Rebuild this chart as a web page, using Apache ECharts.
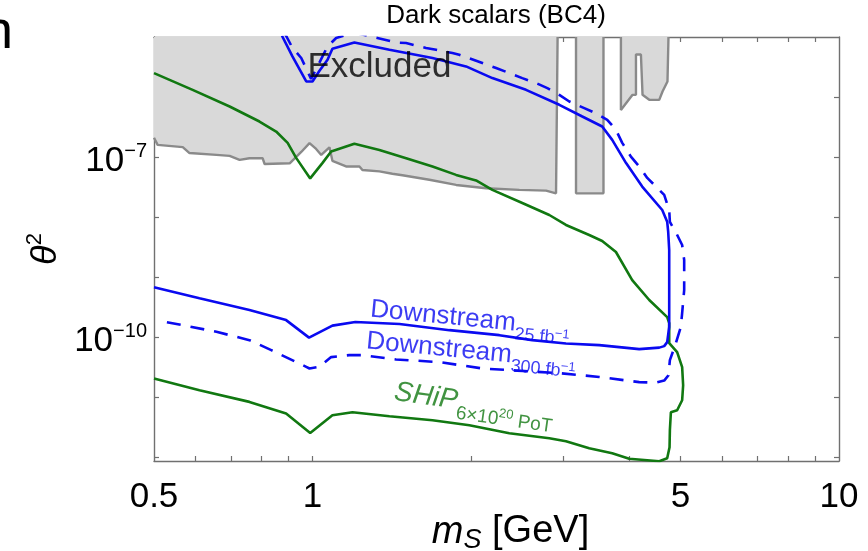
<!DOCTYPE html>
<html><head><meta charset="utf-8">
<script src="https://cdn.jsdelivr.net/npm/echarts@6/dist/echarts.min.js"></script>
<style>html,body{margin:0;padding:0;background:#fff}#c{width:868px;height:551px}</style>
</head><body><div id="c"></div>
<script>
// ---- axis ticks ----
const xTickLabels = [0.5, 1, 5, 10];
const xTicks = [0.6, 0.7, 0.8, 0.9, 1, 2, 3, 4, 5, 6, 7, 8, 9];
const yTickLabels = [1e-7, 1e-10];
const yTicks = [1e-12, 1e-11, 1e-10, 1e-9, 1e-8, 1e-7, 1e-6];

// ---- excluded region (grey), boundaries [m_S GeV, theta^2] ----
const excludedMain = [[0.5,2.1e-7],[0.508,1.6e-7],[0.567,1.47e-7],[0.584,1.17e-7],[0.657,1.09e-7],[0.696,1.05e-7],[0.727,9.0e-8],[0.759,9.6e-8],[0.804,9.6e-8],[0.811,7.7e-8],[0.905,7.9e-8],[0.952,1.22e-7],[0.987,1.71e-7],[1.016,1.37e-7],[1.039,1.09e-7],[1.077,1.46e-7],[1.091,8.7e-8],[1.158,7.0e-8],[1.228,7.0e-8],[1.244,6.1e-8],[1.340,5.8e-8],[1.418,5.3e-8],[1.482,5.0e-8],[1.667,4.2e-8],[1.874,3.45e-8],[2.136,3.04e-8],[2.471,2.85e-8],[2.777,2.77e-8],[2.901,2.5e-8],[2.921,2.45e-8],[2.921,1e-5]];
const excludedBar = [[3.166,1e-5],[3.166,2.5e-8],[3.570,2.5e-8],[3.570,1e-5]];
const excludedRight = [[3.853,1e-5],[3.853,6.1e-7],[4.054,1.09e-6],[4.115,1.09e-6],[4.115,5.1e-6],[4.205,5.1e-6],[4.235,1.09e-6],[4.361,9.0e-7],[4.556,9.0e-7],[4.622,1.24e-6],[4.723,1.82e-6],[4.744,1e-5]];

// ---- sensitivity contours ----
const downstream25 = [[0.875,1.05e-5],[0.916,4.75e-6],[0.973,1.82e-6],[1.0,1.82e-6],[1.031,2.74e-6],[1.068,4.19e-6],[1.091,6.38e-6],[1.201,8.13e-6],[1.400,6.14e-6],[1.690,4.47e-6],[1.957,3.24e-6],[2.196,2.07e-6],[2.544,1.32e-6],[2.943,7.44e-7],[3.254,4.75e-7],[3.550,3.24e-7],[3.709,1.94e-7],[3.938,8.04e-8],[4.229,3.24e-8],[4.616,1.32e-8],[4.717,8.45e-9],[4.738,5.69e-9],[4.759,2.85e-9],[4.759,9.0e-10],[4.759,1.49e-10],[4.717,8.35e-11],[4.656,7.16e-11],[4.556,6.76e-11],[4.174,6.38e-11],[3.504,7.44e-11],[3.030,7.94e-11],[2.615,9.0e-11],[2.264,1.09e-10],[1.820,1.32e-10],[1.463,1.67e-10],[1.206,1.80e-10],[1.091,1.57e-10],[0.985,9.93e-11],[0.891,1.94e-10],[0.759,2.85e-10],[0.610,4.47e-10],[0.5,6.81e-10]];
const downstream300 = [[0.884,1.18e-5],[0.893,1.01e-5],[0.916,6.6e-6],[0.952,4.47e-6],[0.994,2.0e-6],[1.022,3.24e-6],[1.068,6.97e-6],[1.109,9.62e-6],[1.201,1.18e-5],[1.328,9.62e-6],[1.441,8.1e-6],[1.506,7.94e-6],[1.643,6.56e-6],[1.717,6.14e-6],[1.844,5.41e-6],[1.900,5.07e-6],[2.102,3.69e-6],[2.232,3.04e-6],[2.365,2.51e-6],[2.503,2.07e-6],[2.658,1.71e-6],[2.793,1.41e-6],[2.943,1.09e-6],[3.074,8.45e-7],[3.282,6.56e-7],[3.428,5.53e-7],[3.629,4.19e-7],[3.770,2.85e-7],[3.875,1.73e-7],[4.025,1.02e-7],[4.174,6.97e-8],[4.323,4.52e-8],[4.491,3.24e-8],[4.656,2.35e-8],[4.759,1.32e-8],[4.773,8.35e-9],[4.906,5.47e-9],[5.036,3.45e-9],[5.081,1.94e-9],[5.081,6.14e-10],[5.036,2.54e-10],[5.007,1.49e-10],[4.886,7.44e-11],[4.773,4.18e-11],[4.744,2.35e-11],[4.656,1.91e-11],[4.491,1.77e-11],[4.174,1.80e-11],[3.504,2.20e-11],[2.943,2.54e-11],[2.449,2.80e-11],[2.102,3.04e-11],[1.742,3.88e-11],[1.441,4.30e-11],[1.244,5.07e-11],[1.175,5.07e-11],[1.085,4.70e-11],[1.031,3.24e-11],[0.987,3.04e-11],[0.973,3.24e-11],[0.835,6.14e-11],[0.759,9.0e-11],[0.657,1.24e-10],[0.567,1.60e-10],[0.524,1.82e-10]];
const ship = [[0.5,2.51e-6],[0.592,1.32e-6],[0.696,6.97e-7],[0.793,3.92e-7],[0.853,2.67e-7],[0.897,1.73e-7],[0.931,9.73e-8],[0.990,4.43e-8],[1.045,8.04e-8],[1.085,1.24e-7],[1.201,1.67e-7],[1.340,1.32e-7],[1.506,9.62e-8],[1.690,6.97e-8],[1.874,5.07e-8],[2.045,4.10e-8],[2.196,2.85e-8],[2.503,1.73e-8],[2.817,1.09e-8],[3.030,7.44e-9],[3.354,5.07e-9],[3.550,4.03e-9],[3.770,2.64e-9],[4.048,9.0e-10],[4.361,4.19e-10],[4.717,2.18e-10],[4.759,1.73e-10],[4.759,8.04e-11],[4.927,5.69e-11],[5.036,3.20e-11],[5.058,1.60e-11],[5.036,9.0e-12],[4.927,6.14e-12],[4.794,5.69e-12],[4.773,2.85e-12],[4.766,1.49e-12],[4.717,9.73e-13],[4.556,8.67e-13],[3.995,9.55e-13],[3.709,1.18e-12],[3.354,1.43e-12],[3.030,1.87e-12],[2.817,2.10e-12],[2.365,2.54e-12],[1.986,3.45e-12],[1.690,4.19e-12],[1.400,4.88e-12],[1.191,5.69e-12],[1.091,5.07e-12],[0.990,2.57e-12],[0.891,5.41e-12],[0.759,8.45e-12],[0.610,1.32e-11],[0.5,2.07e-11]];

// ---- annotations [m_S, theta^2] ----
const excludedLabelAt = [0.978, 3.08e-6];
const ds25LabelAt = [1.288, 2.93e-10];
const ds300LabelAt = [1.266, 8.65e-11];
const shipLabelAt = [1.431, 1.23e-11];

const FONT = '"Liberation Sans", Arial, sans-serif';
const FRAME = '#707070';
const BLUE = '#0a0af0';
const GREEN = '#117811';

const chart = echarts.init(document.getElementById('c'), null, {renderer: 'canvas'});

function frameAxis(base) {
  return Object.assign({
    axisLine: {show: true, onZero: false, lineStyle: {color: FRAME, width: 1.4}},
    splitLine: {show: false},
    minorTick: {show: false},
    minorSplitLine: {show: false}
  }, base);
}

const xLabelFmt = v => (v < 0.75 ? '0.5' : String(Math.round(v)));
const yLabelFmt = v => '{b|10}{s|\u2212' + Math.round(-Math.log10(v)) + '}';

function exclSeries(data) {
  return {
    type: 'line', data: data, showSymbol: false, symbol: 'none', silent: true,
    lineStyle: {color: '#8a8a8a', width: 2.4},
    areaStyle: {origin: 'end', color: '#d9d9d9', opacity: 1},
    z: 1
  };
}
function labelSeries(at, text, rotate, color, rich, fontSize, style) {
  return {
    type: 'scatter', data: [at], symbolSize: 0, silent: true, z: 10,
    label: {show: true, position: [0, 0], align: 'left', verticalAlign: 'middle',
      rotate: rotate, formatter: text, color: color, fontFamily: FONT,
      fontSize: fontSize, fontStyle: style || 'normal', rich: rich}
  };
}
function dsRich() {
  return {
    m: {fontSize: 26, lineHeight: 40, color: BLUE, fontFamily: FONT},
    s: {fontSize: 18, lineHeight: 16, verticalAlign: 'bottom', color: BLUE, fontFamily: FONT},
    u: {fontSize: 13, lineHeight: 16, verticalAlign: 'bottom', padding: [0, 0, 7, 0], color: BLUE, fontFamily: FONT}
  };
}

const option = {
  animation: false,
  backgroundColor: '#fff',
  grid: {left: 154, right: 29, top: 37, bottom: 90, containLabel: false, outerBoundsMode: 'none'},
  xAxis: [
    frameAxis({type: 'log', logBase: 10, min: 0.5, max: 10, position: 'bottom',
      axisTick: {show: true, inside: true, length: 5, customValues: xTicks, lineStyle: {color: FRAME, width: 1.2}},
      axisLabel: {show: true, customValues: xTickLabels, formatter: xLabelFmt, fontSize: 35, color: '#000', fontFamily: FONT, margin: 19},
      name: '{i|m}{s|S}{n| [GeV]}', nameLocation: 'middle', nameGap: 49, nameMoveOverlap: false,
      nameTextStyle: {color: '#000', fontFamily: FONT, fontSize: 38, padding: [0, 0, 0, 28],
        rich: {i: {fontSize: 38, fontStyle: 'italic', lineHeight: 44, fontFamily: FONT},
               s: {fontSize: 27, fontStyle: 'italic', lineHeight: 20, verticalAlign: 'bottom', fontFamily: FONT},
               n: {fontSize: 38, lineHeight: 44, fontFamily: FONT}}}
    }),
    frameAxis({type: 'log', logBase: 10, min: 0.5, max: 10, position: 'top',
      axisTick: {show: true, inside: true, length: 5, customValues: xTicks, lineStyle: {color: FRAME, width: 1.2}},
      axisLabel: {show: false}
    })
  ],
  yAxis: [
    frameAxis({type: 'log', logBase: 10, min: 8.77e-13, max: 1e-5, position: 'left',
      axisTick: {show: true, inside: true, length: 5, customValues: yTicks, lineStyle: {color: FRAME, width: 1.2}},
      axisLabel: {show: true, customValues: yTickLabels, formatter: yLabelFmt, color: '#000', fontFamily: FONT, margin: 7,
        padding: [8, 0, 0, 0],
        rich: {b: {fontSize: 35, lineHeight: 40, fontFamily: FONT, color: '#000'},
               s: {fontSize: 20, lineHeight: 20, verticalAlign: 'top', fontFamily: FONT, color: '#000'}}},
      name: '{t|\u03b8}{p|2}', nameLocation: 'middle', nameGap: 86, nameRotate: 90, nameMoveOverlap: false,
      nameTextStyle: {color: '#000', fontFamily: FONT,
        rich: {t: {fontSize: 36, fontStyle: 'italic', lineHeight: 44, fontFamily: FONT},
               p: {fontSize: 22, lineHeight: 22, verticalAlign: 'top', fontFamily: FONT}}}
    }),
    frameAxis({type: 'log', logBase: 10, min: 8.77e-13, max: 1e-5, position: 'right',
      axisTick: {show: true, inside: true, length: 5, customValues: yTicks, lineStyle: {color: FRAME, width: 1.2}},
      axisLabel: {show: false}
    })
  ],
  graphic: [
    {type: 'text', x: 496, y: 3, silent: true,
     style: {text: 'Dark scalars (BC4)', fontSize: 26, fontFamily: FONT, fill: '#000', align: 'center', verticalAlign: 'top'}},
    {type: 'text', x: -17, y: 6, silent: true,
     style: {text: 'n', fontSize: 54, fontFamily: FONT, fill: '#000', align: 'left', verticalAlign: 'top'}}
  ],
  series: [
    exclSeries(excludedMain),
    exclSeries(excludedBar),
    exclSeries(excludedRight),
    {type: 'line', data: ship, showSymbol: false, symbol: 'none', z: 3,
     lineStyle: {color: GREEN, width: 2.6}},
    {type: 'line', data: downstream300, showSymbol: false, symbol: 'none', z: 4,
     lineStyle: {color: BLUE, width: 2.6, type: [14, 10]}},
    {type: 'line', data: downstream25, showSymbol: false, symbol: 'none', z: 5,
     lineStyle: {color: BLUE, width: 2.6}},
    labelSeries(excludedLabelAt, 'Excluded', 0, '#000', {}, 35),
    labelSeries(ds25LabelAt, '{m|Downstream}{s|25 fb}{u|\u22121}', -5.5, BLUE, dsRich(), 26),
    labelSeries(ds300LabelAt, '{m|Downstream}{s|300 fb}{u|\u22121}', -5.5, BLUE, dsRich(), 26),
    labelSeries(shipLabelAt, '{m|SHiP}{s|6\u00d710}{u|20}{s| PoT}', -8, GREEN,
      {m: {fontSize: 28, fontStyle: 'italic', lineHeight: 44, color: GREEN, fontFamily: FONT},
       s: {fontSize: 19, lineHeight: 20, verticalAlign: 'bottom', color: GREEN, fontFamily: FONT},
       u: {fontSize: 13, lineHeight: 20, verticalAlign: 'bottom', padding: [0, 0, 9, 0], color: GREEN, fontFamily: FONT}}, 28)
  ]
};
chart.setOption(option);
</script>
</body></html>
